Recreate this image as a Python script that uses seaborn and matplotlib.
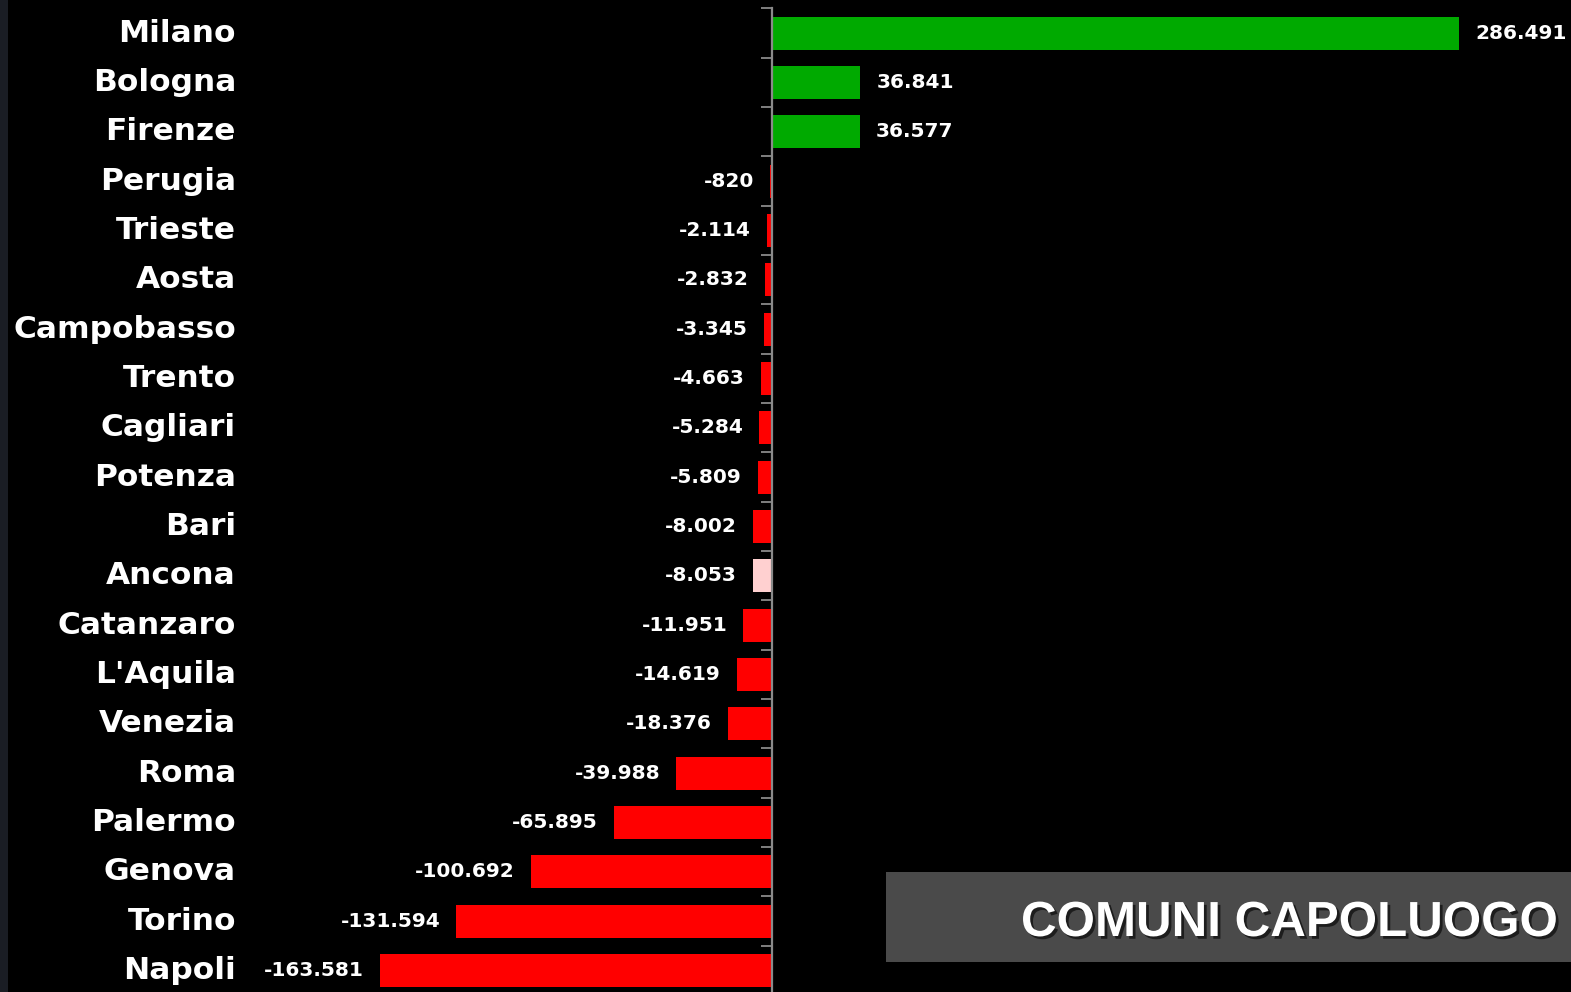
import numpy as np
import pandas as pd
import matplotlib
matplotlib.use("Agg")
import matplotlib.pyplot as plt
import matplotlib.patheffects as pe
from matplotlib.patches import Rectangle
import seaborn as sns

cities = ["Milano", "Bologna", "Firenze", "Perugia", "Trieste", "Aosta", "Campobasso",
          "Trento", "Cagliari", "Potenza", "Bari", "Ancona", "Catanzaro", "L'Aquila",
          "Venezia", "Roma", "Palermo", "Genova", "Torino", "Napoli"]
values = [286491, 36841, 36577, -820, -2114, -2832, -3345, -4663, -5284, -5809,
          -8002, -8053, -11951, -14619, -18376, -39988, -65895, -100692, -131594, -163581]
highlight = "Ancona"
title_text = "COMUNI CAPOLUOGO"

GREEN = "#00aa00"
RED = "#ff0000"
PINK = "#ffd0d0"
colors = {c: (PINK if c == highlight else (GREEN if v > 0 else RED)) for c, v in zip(cities, values)}

df = pd.DataFrame({"city": cities, "value": values})

W, H = 1571, 992
fig = plt.figure(figsize=(W / 100, H / 100), dpi=100, facecolor="black")
# dark strip on the left edge
fig.patches.append(Rectangle((0, 0), 8 / W, 1, transform=fig.transFigure,
                             facecolor="#1a1d24", edgecolor="none", zorder=0))

n = len(cities)
step = 49.33
top_px = 8.5
ax_h = n * step
ax = fig.add_axes([8 / W, (H - top_px - ax_h) / H, (W - 8) / W, ax_h / H])
ax.set_facecolor("black")

sns.barplot(data=df, x="value", y="city", hue="city", palette=colors, legend=False,
            orient="h", width=0.67, saturation=1, ax=ax)

scale = 687 / 286491  # px per unit
zero_px = 772 - 8
ax.set_xlim(-zero_px / scale, (W - 8 - zero_px) / scale)
ax.set_ylim(n - 0.5, -0.5)

for s in ["top", "right", "bottom"]:
    ax.spines[s].set_visible(False)
ax.spines["left"].set_position(("data", 0))
ax.spines["left"].set_color("#8a8a8a")
ax.spines["left"].set_linewidth(1.6)
ax.spines["left"].set_zorder(5)

ax.set_yticks(np.arange(-0.5, n, 1.0))
ax.set_yticklabels([])
ax.tick_params(axis="y", length=8, width=1.3, color="#8a8a8a", direction="out")
ax.set_xticks([])
ax.set_xlabel("")
ax.set_ylabel("")

label_font = dict(family=["DejaVu Sans"], weight="bold")
trans = matplotlib.transforms.blended_transform_factory(ax.transAxes, ax.transData)
lab_x = (236 - 8) / (W - 8)
for i, c in enumerate(cities):
    ax.text(lab_x, i, c, transform=trans, ha="right", va="center", color="white",
            fontsize=22.5, **label_font)

for cont in ax.containers:
    labs = [f"{b.get_width():,.0f}".replace(",", ".") for b in cont]
    ax.bar_label(cont, labels=labs, padding=11.5, color="white", fontsize=14.5,
                 family=["DejaVu Sans"], weight="bold")

# title box
fig.patches.append(Rectangle((886 / W, (H - 962) / H), 1, 90 / H, transform=fig.transFigure,
                             facecolor="#4a4a4a", edgecolor="none", zorder=3))
fig.text(1021 / W, (H - 936) / H, title_text, color="white", fontsize=35.5, ha="left", va="baseline",
         family=["Liberation Sans Narrow", "Liberation Sans", "DejaVu Sans"], weight="bold",
         zorder=4, path_effects=[pe.withSimplePatchShadow(offset=(2, -2), shadow_rgbFace="black", alpha=0.6)])

fig.savefig("out.png", dpi=100, facecolor="black")
